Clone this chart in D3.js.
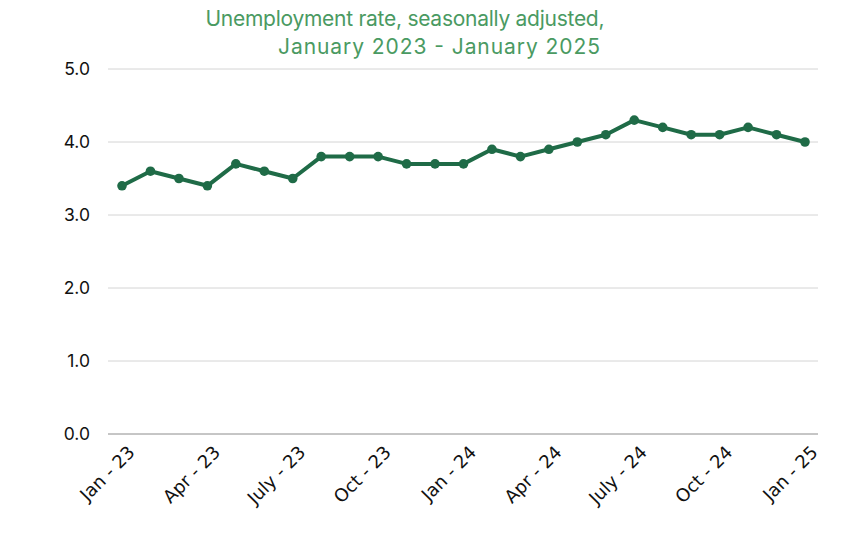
<!DOCTYPE html>
<html>
<head>
<script src="https://d3js.org/d3.v7.min.js"></script>
<style>
  body { margin: 0; background: #fff; }
  text { font-family: Inter, "Noto Sans", sans-serif; }
</style>
</head>
<body>
<svg width="849" height="553"></svg>
<script>
// monthly unemployment rate, Jan 2023 - Jan 2025
var months = ["Jan - 23","Feb - 23","Mar - 23","Apr - 23","May - 23","June - 23","July - 23","Aug - 23","Sep - 23","Oct - 23","Nov - 23","Dec - 23",
              "Jan - 24","Feb - 24","Mar - 24","Apr - 24","May - 24","June - 24","July - 24","Aug - 24","Sep - 24","Oct - 24","Nov - 24","Dec - 24","Jan - 25"];
var rates = [3.4,3.6,3.5,3.4,3.7,3.6,3.5,3.8,3.8,3.8,3.7,3.7,
             3.7,3.9,3.8,3.9,4.0,4.1,4.3,4.2,4.1,4.1,4.2,4.1,4.0];
var tickLabels = ["Jan - 23","Apr - 23","July - 23","Oct - 23","Jan - 24","Apr - 24","July - 24","Oct - 24","Jan - 25"];
var yTicks = [0,1,2,3,4,5];

var svg = d3.select("svg");

var x = d3.scalePoint().domain(months).range([122, 805]);
var y = d3.scaleLinear().domain([0, 5]).range([434, 69]);

// title
var title = svg.append("g").attr("fill", "#4a9a62").style("font-size", "21px");
title.append("text").attr("x", 405).attr("y", 26).attr("text-anchor", "middle")
  .attr("textLength", 399).attr("lengthAdjust", "spacing")
  .text("Unemployment rate, seasonally adjusted,");
title.append("text").attr("x", 439).attr("y", 54).attr("text-anchor", "middle")
  .attr("textLength", 322).attr("lengthAdjust", "spacing")
  .text("January 2023 - January 2025");

// gridlines
svg.append("g").selectAll("line").data(yTicks).enter().append("line")
  .attr("x1", 108).attr("x2", 818)
  .attr("y1", function(d) { return y(d); })
  .attr("y2", function(d) { return y(d); })
  .attr("stroke", function(d) { return d === 0 ? "#8c8c8c" : "#d4d4d4"; })
  .attr("stroke-width", 1);

// y labels
var yAxis = svg.append("g").attr("transform", "translate(93,0)")
  .call(d3.axisLeft(y).tickValues(yTicks).tickFormat(d3.format(".1f")).tickSize(0));
yAxis.select(".domain").remove();
yAxis.selectAll("text").attr("fill", "#111").style("font-size", "17.5px")
  .style("font-family", "Inter, 'Noto Sans', sans-serif");

// x labels
var xAxis = svg.append("g").attr("transform", "translate(0,434)")
  .call(d3.axisBottom(x).tickValues(tickLabels).tickSize(0));
xAxis.select(".domain").remove();
xAxis.selectAll("text")
  .attr("fill", "#111").style("font-size", "18px")
  .style("font-family", "'DejaVu Sans', Inter, sans-serif")
  .attr("text-anchor", "end")
  .attr("dy", "0.35em").attr("y", 0)
  .attr("transform", "translate(9,15) rotate(-45)");

// line and points
var line = d3.line()
  .x(function(d, i) { return x(months[i]); })
  .y(function(d) { return y(d); });

svg.append("path").datum(rates)
  .attr("d", line)
  .attr("fill", "none")
  .attr("stroke", "#1f6b47")
  .attr("stroke-width", 4)
  .attr("stroke-linejoin", "round");

svg.append("g").selectAll("circle").data(rates).enter().append("circle")
  .attr("cx", function(d, i) { return x(months[i]); })
  .attr("cy", function(d) { return y(d); })
  .attr("r", 4.8)
  .attr("fill", "#1f6b47");
</script>
</body>
</html>
